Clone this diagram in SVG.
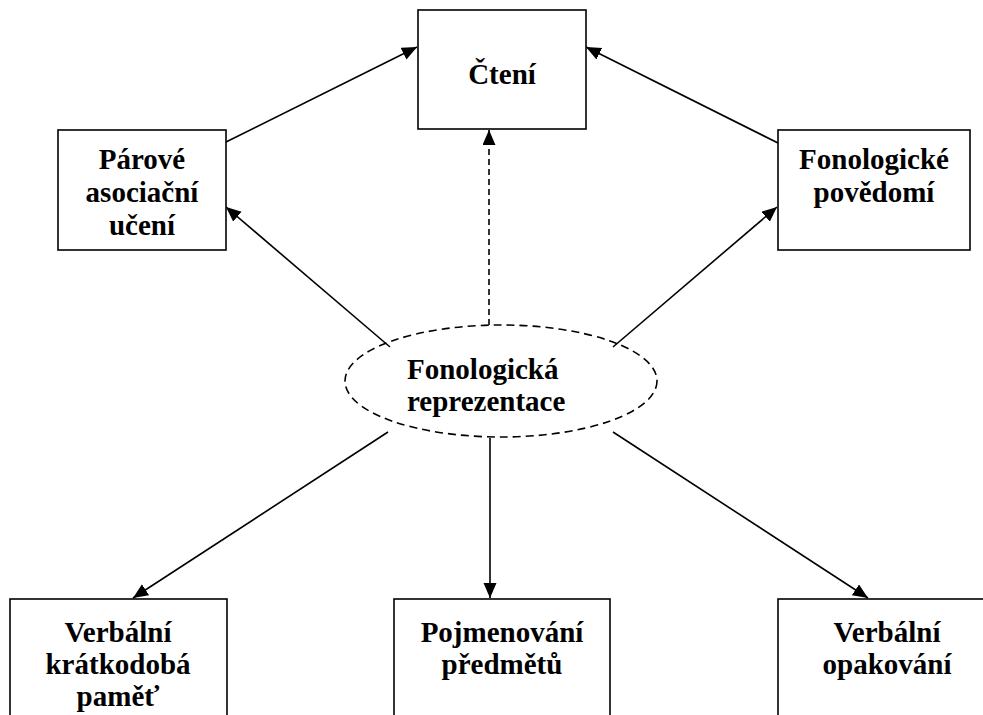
<svg xmlns="http://www.w3.org/2000/svg" width="983" height="715" viewBox="0 0 983 715">
<defs>
<marker id="ah" markerUnits="userSpaceOnUse" markerWidth="16" markerHeight="14" refX="15" refY="6.5" orient="auto">
<path d="M0,0 L15,6.5 L0,13 z" fill="#000"/>
</marker>
<style>
.box{fill:#fff;stroke:#000;stroke-width:1.6}
.t{font-family:"Liberation Serif","Times New Roman",serif;font-weight:bold;font-size:29px;fill:#000;text-anchor:middle}
.c{stroke:#000;stroke-width:1.6;fill:none;marker-end:url(#ah)}
.d{stroke-dasharray:6,4}
</style>
</defs>
<rect width="983" height="715" fill="#fff"/>
<g id="connectors">
<line class="c" x1="226" y1="142" x2="417" y2="47"/>
<line class="c" x1="778" y1="143" x2="586" y2="47"/>
<line class="c d" x1="489" y1="325" x2="489" y2="130"/>
<line class="c" x1="390" y1="347" x2="226" y2="207"/>
<line class="c" x1="613" y1="347" x2="777" y2="207"/>
<line class="c" x1="388" y1="432" x2="133" y2="598"/>
<line class="c" x1="490" y1="438" x2="490" y2="598"/>
<line class="c" x1="613" y1="432" x2="868" y2="598"/>
</g>
<g id="cteni">
<rect class="box" x="418" y="10" width="168" height="119"/>
<text class="t" x="502" y="84">Čtení</text>
</g>
<g id="parove">
<rect class="box" x="58" y="130" width="168" height="120"/>
<text class="t" x="142" y="169">Párové</text>
<text class="t" x="142" y="202">asociační</text>
<text class="t" x="142" y="235">učení</text>
</g>
<g id="fonologicke">
<rect class="box" x="778" y="130" width="192" height="120"/>
<text class="t" x="874" y="169">Fonologické</text>
<text class="t" x="874" y="202">povědomí</text>
</g>
<g id="reprezentace">
<ellipse cx="501" cy="381" rx="156" ry="56" fill="none" stroke="#000" stroke-width="1.6" stroke-dasharray="8,5"/>
<text class="t" x="407" y="379" style="text-anchor:start">Fonologická</text>
<text class="t" x="407" y="411" style="text-anchor:start">reprezentace</text>
</g>
<g id="kratkodoba">
<rect class="box" x="10" y="599" width="217" height="140"/>
<text class="t" x="118" y="642">Verbální</text>
<text class="t" x="118" y="674">krátkodobá</text>
<text class="t" x="118" y="706">paměť</text>
</g>
<g id="pojmenovani">
<rect class="box" x="394" y="599" width="216" height="140"/>
<text class="t" x="502" y="642">Pojmenování</text>
<text class="t" x="502" y="674">předmětů</text>
</g>
<g id="opakovani">
<rect class="box" x="778" y="599" width="217" height="140"/>
<text class="t" x="887" y="642">Verbální</text>
<text class="t" x="887" y="674">opakování</text>
</g>
</svg>
